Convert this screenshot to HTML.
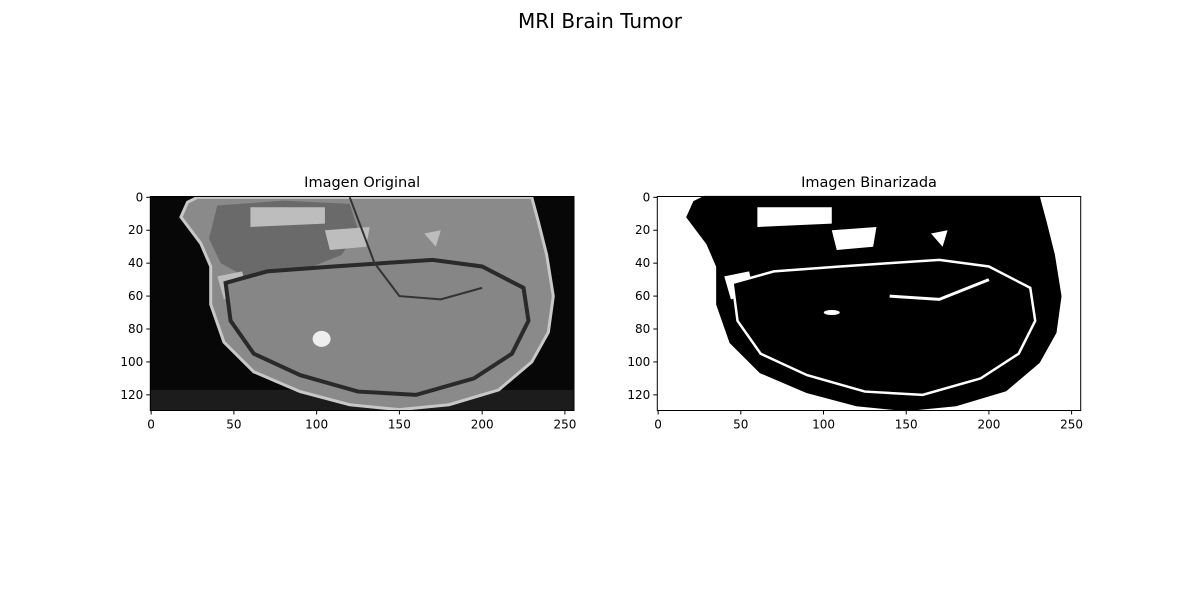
<!DOCTYPE html>
<html><head><meta charset="utf-8"><style>
body{margin:0;background:#fff;width:1200px;height:600px;overflow:hidden;font-family:"DejaVu Sans","Liberation Sans",sans-serif}
svg text{font-family:"DejaVu Sans","Liberation Sans",sans-serif}
</style></head><body>
<svg id="fig" width="1200" height="600" xmlns="http://www.w3.org/2000/svg">
<rect width="1200" height="600" fill="#fff"/>
<text x="600" y="28" font-size="20" text-anchor="middle">MRI Brain Tumor</text>
<g id="ax1"></g>
<g id="ax2"></g>
</svg>
<script>
const xTicks=[0,50,100,150,200,250];
const yTicks=[0,20,40,60,80,100,120];
const imgW=256, imgH=130;
const titles=["Imagen Original","Imagen Binarizada"];
const head=[[22,3],[28,0],[230,0],[234,15],[239,35],[243,60],[240,82],[230,100],[210,117],[180,126],[150,129],[120,126],[90,118],[62,106],[44,88],[36,65],[36,42],[30,28],[18,12]];
const brain=[[45,52],[70,45],[110,42],[140,40],[170,38],[200,42],[225,55],[228,75],[218,95],[195,110],[160,120],[125,118],[90,108],[62,95],[48,75]];
const upperL=[[40,5],[80,2],[120,4],[125,20],[115,35],[90,45],[60,50],[42,40],[35,25]];
const whitePatches=[[[60,6],[105,6],[105,16],[60,18]],[[105,20],[132,18],[130,30],[108,32]],[[40,48],[55,45],[58,58],[44,62]],[[165,22],[175,20],[172,30]],[[185,55],[205,50],[210,56],[190,60]]];
const ns="http://www.w3.org/2000/svg";
function mk(p,t,a){const e=document.createElementNS(ns,t);for(const k in a)e.setAttribute(k,a[k]);p.appendChild(e);return e;}
function draw(id,x0,x1,idx){
 const g=document.getElementById(id);const y0=196.5,y1=410.5;
 const sx=v=>x0+(v+0.5)*(x1-x0)/imgW, sy=v=>y0+(v+0.5)*(y1-y0)/imgH;
 const pts=a=>a.map(p=>sx(p[0])+","+sy(p[1])).join(" ");
 const bin=idx==1;
 mk(g,"rect",{x:x0,y:y0,width:x1-x0,height:y1-y0,fill:bin?"#fff":"#070707"});
 if(!bin) mk(g,"rect",{x:x0,y:sy(117),width:x1-x0,height:y1-sy(117),fill:"#1c1c1c"});
 let e=mk(g,"polygon",{points:pts(head),fill:bin?"#000":"#8a8a8a",stroke:bin?"#000":"#c8c8c8","stroke-width":3});
 
 if(!bin){
  mk(g,"polygon",{points:pts(upperL),fill:"#6a6a6a"});
  whitePatches.forEach(w=>mk(g,"polygon",{points:pts(w),fill:"#bdbdbd"}));
 } else {
  whitePatches.forEach(w=>mk(g,"polygon",{points:pts(w),fill:"#fff"}));
 }
 e=mk(g,"polygon",{points:pts(brain),fill:bin?"#000":"#868686",stroke:bin?"#fff":"#2a2a2a","stroke-width":bin?2.5:4});
 
 if(!bin){
  e=mk(g,"ellipse",{cx:sx(103),cy:sy(86),rx:9,ry:8,fill:"#eee"});
  
  mk(g,"polyline",{points:pts([[120,0],[135,40],[150,60],[175,62],[200,55]]),fill:"none",stroke:"#333","stroke-width":2});
 } else {
  mk(g,"polyline",{points:pts([[140,60],[170,62],[200,50]]),fill:"none",stroke:"#fff","stroke-width":3});
  mk(g,"ellipse",{cx:sx(105),cy:sy(70),rx:8,ry:2.5,fill:"#fff"});
 }
 mk(g,"rect",{x:x0,y:y0,width:x1-x0,height:y1-y0,fill:"none",stroke:"#000","stroke-width":1});
 xTicks.forEach(v=>{const x=sx(v);mk(g,"line",{x1:x,x2:x,y1:y1,y2:y1+4,stroke:"#000"});
  const t=mk(g,"text",{x:x,y:y1+18,"font-size":12,"text-anchor":"middle"});t.textContent=v;
  });
 yTicks.forEach(v=>{const y=sy(v);mk(g,"line",{x1:x0-4,x2:x0,y1:y,y2:y,stroke:"#000"});
  const t=mk(g,"text",{x:x0-7,y:y+4,"font-size":12,"text-anchor":"end"});t.textContent=v;
  });
 const t=mk(g,"text",{x:(x0+x1)/2,y:187,"font-size":14.5,"text-anchor":"middle"});t.textContent=titles[idx];
 
}
draw("ax1",150.3,574,0);
draw("ax2",657.3,1080.7,1);
</script>
</body></html>
